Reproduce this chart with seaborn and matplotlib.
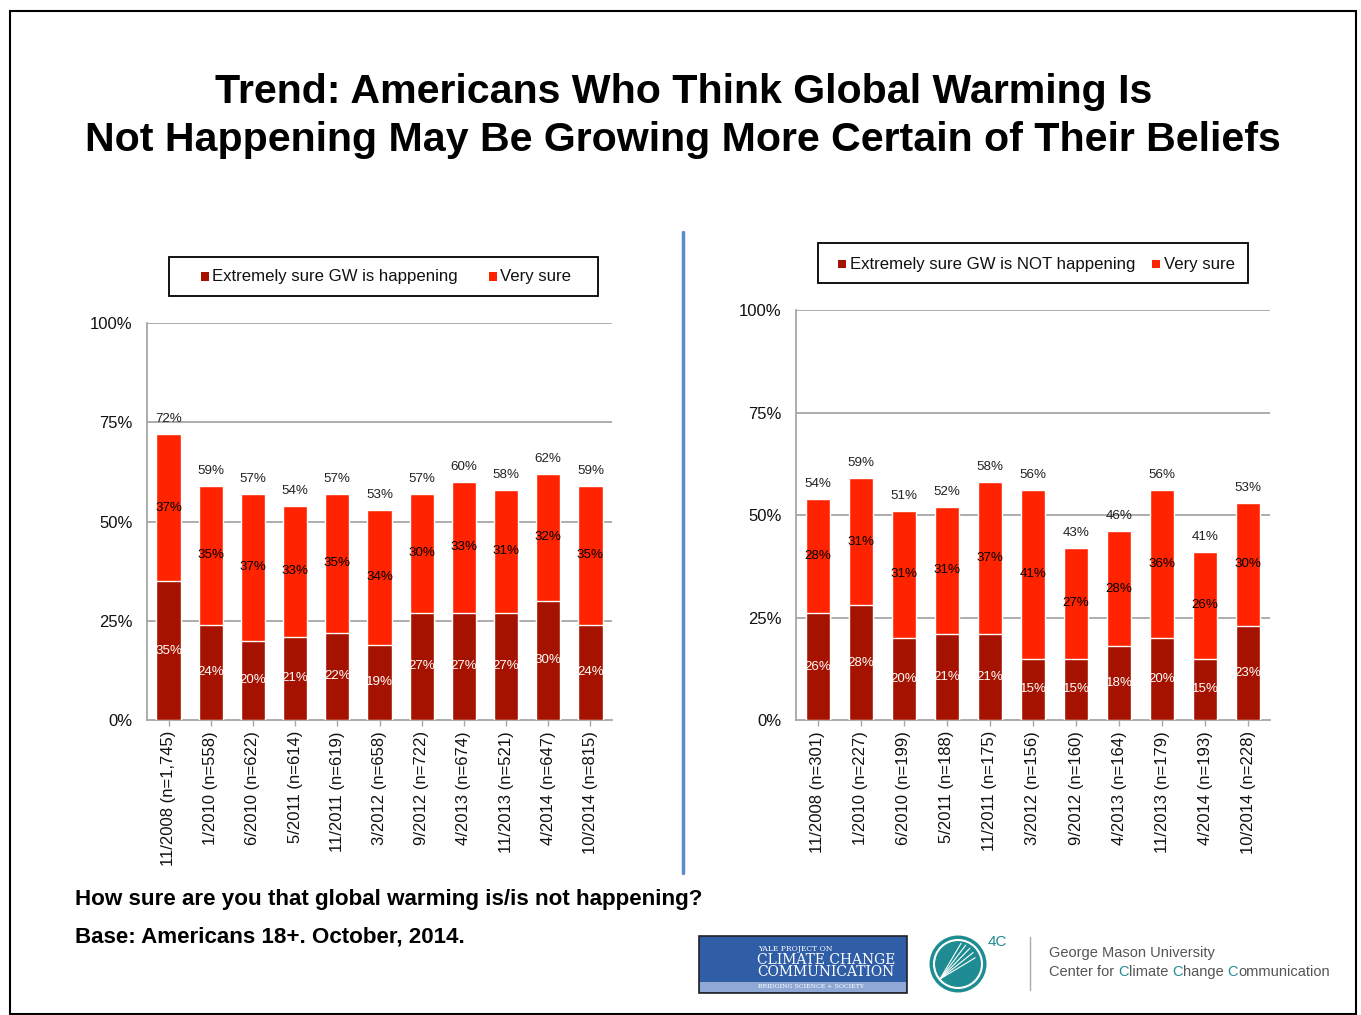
import matplotlib
matplotlib.use("Agg")
import matplotlib.pyplot as plt
import seaborn as sns
import pandas as pd
import numpy as np
from matplotlib.patches import Rectangle, Circle
from matplotlib.lines import Line2D

# ---- data ----
waves_happening = ["11/2008 (n=1,745)", "1/2010 (n=558)", "6/2010 (n=622)", "5/2011 (n=614)",
                   "11/2011 (n=619)", "3/2012 (n=658)", "9/2012 (n=722)", "4/2013 (n=674)",
                   "11/2013 (n=521)", "4/2014 (n=647)", "10/2014 (n=815)"]
extremely_happening = [35, 24, 20, 21, 22, 19, 27, 27, 27, 30, 24]
very_happening = [37, 35, 37, 33, 35, 34, 30, 33, 31, 32, 35]
total_happening = [72, 59, 57, 54, 57, 53, 57, 60, 58, 62, 59]

waves_not = ["11/2008 (n=301)", "1/2010 (n=227)", "6/2010 (n=199)", "5/2011 (n=188)",
             "11/2011 (n=175)", "3/2012 (n=156)", "9/2012 (n=160)", "4/2013 (n=164)",
             "11/2013 (n=179)", "4/2014 (n=193)", "10/2014 (n=228)"]
extremely_not = [26, 28, 20, 21, 21, 15, 15, 18, 20, 15, 23]
very_not = [28, 31, 31, 31, 37, 41, 27, 28, 36, 26, 30]
total_not = [54, 59, 51, 52, 58, 56, 43, 46, 56, 41, 53]

yticks = [0, 25, 50, 75, 100]
ytick_labels = ["0%", "25%", "50%", "75%", "100%"]

DARK = "#A51300"
BRIGHT = "#FF2300"
GRID = "#A6A6A6"
TEAL = "#1E8C92"

sns.set_theme(style="white")
plt.rcParams["font.family"] = ["Liberation Sans", "DejaVu Sans"]

W, H = 1361, 1015
fig = plt.figure(figsize=(W / 100, H / 100), dpi=100)
fig.patch.set_facecolor("white")
renderer = fig.canvas.get_renderer()


def fx(px):
    return px / W


def fy(py):
    return 1 - py / H


def fig_rect(x0, y0, x1, y1, **kw):
    fig.patches.append(Rectangle((fx(x0), fy(y1)), fx(x1) - fx(x0), fy(y0) - fy(y1),
                                 transform=fig.transFigure, **kw))


def legend_entry(mx, my, label, color):
    # small square swatch followed by its label
    fig_rect(mx, my - 4.5, mx + 8, my + 3.5, facecolor=color, edgecolor="none")
    fig.text(fx(mx + 11.5), fy(my), label, fontsize=12.1, color="#111111",
             ha="left", va="center")


def draw_panel(rect, cats, dark, bright, totals):
    ax = fig.add_axes(rect)
    df = pd.DataFrame({"wave": cats, "dark": dark, "bright": bright})
    df["stack"] = df["dark"] + df["bright"]
    sns.barplot(data=df, x="wave", y="stack", color=BRIGHT, width=0.57,
                saturation=1, ax=ax, zorder=3)
    sns.barplot(data=df, x="wave", y="dark", color=DARK, width=0.57,
                saturation=1, ax=ax, zorder=4)
    ax.set_xlim(-0.51, len(cats) - 0.49)
    ax.set_ylim(0, 100)
    ax.set_yticks(yticks)
    ax.set_yticklabels(ytick_labels, fontsize=12, color="#111111")
    ax.tick_params(axis="y", length=0, pad=10.5)
    ax.set_xticks(range(len(cats)))
    ax.set_xticklabels(cats, rotation=90, fontsize=12, color="#111111")
    ax.tick_params(axis="x", length=4, width=1, color=GRID, pad=4, bottom=True)
    ax.set_xlabel("")
    ax.set_ylabel("")
    for y in yticks[1:]:
        ax.axhline(y, color=GRID, lw=1.3, zorder=1)
    for s in ["top", "right"]:
        ax.spines[s].set_visible(False)
    for s in ["left", "bottom"]:
        ax.spines[s].set_color(GRID)
        ax.spines[s].set_linewidth(1.3)
    for i in range(len(cats)):
        ax.text(i, dark[i] / 2, f"{dark[i]}%", ha="center", va="center",
                fontsize=9.6, color="white", zorder=6)
        ax.text(i, dark[i] + bright[i] / 2, f"{bright[i]}%", ha="center", va="center",
                fontsize=9.6, color="black", zorder=6)
        ax.text(i, dark[i] + bright[i] + 2.2, f"{totals[i]}%", ha="center", va="bottom",
                fontsize=9.6, color="#222222", zorder=6)
    return ax


draw_panel([fx(147), fy(720), fx(612) - fx(147), fy(323) - fy(720)],
           waves_happening, extremely_happening, very_happening, total_happening)
draw_panel([fx(796), fy(720), fx(1270) - fx(796), fy(310) - fy(720)],
           waves_not, extremely_not, very_not, total_not)

# legends
fig_rect(169, 257, 598, 296, fill=False, edgecolor="black", lw=1.3)
legend_entry(201, 277, "Extremely sure GW is happening", DARK)
legend_entry(489, 277, "Very sure", BRIGHT)
fig_rect(818, 243, 1248, 283, fill=False, edgecolor="black", lw=1.3)
legend_entry(838, 264, "Extremely sure GW is NOT happening", DARK)
legend_entry(1152, 264, "Very sure", BRIGHT)

# outer frame
fig_rect(10, 11, 1356, 1014, fill=False, edgecolor="black", lw=1.5)
# divider between panels
fig.lines.append(Line2D([fx(683), fx(683)], [fy(232), fy(873)],
                        transform=fig.transFigure, color="#5B8BCB", lw=2.5))

# title
fig.text(0.502, fy(92), "Trend: Americans Who Think Global Warming Is",
         ha="center", va="center", fontsize=29.6, fontweight="bold", color="black")
fig.text(0.502, fy(140), "Not Happening May Be Growing More Certain of Their Beliefs",
         ha="center", va="center", fontsize=29.6, fontweight="bold", color="black")

# question and base
fig.text(fx(75), fy(900), "How sure are you that global warming is/is not happening?",
         ha="left", va="center", fontsize=16.1, fontweight="bold", color="black")
fig.text(fx(75), fy(937), "Base: Americans 18+. October, 2014.",
         ha="left", va="center", fontsize=16.1, fontweight="bold", color="black")

# Yale project badge
fig_rect(699, 936, 907, 993, facecolor="#2F5DA6", edgecolor="#222222", lw=1.2)
fig_rect(700, 982, 906, 992, facecolor="#8FA8D6", edgecolor="none")
globe = fig.add_axes([fx(704), fy(993), fx(762) - fx(704), fy(937) - fy(993)])
globe.set_xlim(-1, 1)
globe.set_ylim(-1, 1)
globe.set_aspect("equal")
globe.axis("off")
globe.add_patch(Circle((0, 0), 0.92, facecolor="#E8A020", edgecolor="#B86010", lw=1))
globe.add_patch(Circle((0.1, -0.2), 0.45, facecolor="#D2501A", edgecolor="none"))
fig.text(fx(758), fy(949), "YALE PROJECT ON", fontsize=5.5, color="white",
         family="DejaVu Serif", va="center")
fig.text(fx(757), fy(960), "CLIMATE CHANGE", fontsize=10, color="white",
         family="DejaVu Serif", va="center")
fig.text(fx(757), fy(972), "COMMUNICATION", fontsize=10, color="white",
         family="DejaVu Serif", va="center")
fig.text(fx(758), fy(987), "BRIDGING SCIENCE + SOCIETY", fontsize=4.5, color="white",
         family="DejaVu Serif", va="center")

# 4C emblem
emb = fig.add_axes([fx(928), fy(994), fx(988) - fx(928), fy(934) - fy(994)])
emb.set_xlim(-1, 1)
emb.set_ylim(-1, 1)
emb.set_aspect("equal")
emb.axis("off")
emb.add_patch(Circle((0, 0), 0.95, facecolor=TEAL, edgecolor="none"))
emb.add_patch(Circle((0, 0), 0.8, facecolor="none", edgecolor="white", lw=1.5))
for a in np.linspace(0.3, 1.4, 5):
    emb.plot([-0.6, 0.6 * np.cos(a)], [-0.5, 0.7 * np.sin(a)], color="white", lw=0.8)
fig.text(fx(988), fy(942), "4C", fontsize=11, color=TEAL, va="center")
fig.lines.append(Line2D([fx(1030), fx(1030)], [fy(937), fy(990)],
                        transform=fig.transFigure, color="#AAAAAA", lw=1))
fig.text(fx(1049), fy(953), "George Mason University", fontsize=10.5,
         color="#555555", va="center")

# centre name with the initial C's picked out in teal
x = fx(1049)
for piece, col in [("Center for ", "#555555"), ("C", TEAL), ("limate ", "#555555"),
                   ("C", TEAL), ("hange ", "#555555"), ("C", TEAL),
                   ("ommunication", "#555555")]:
    t = fig.text(x, fy(972), piece, fontsize=10.5, color=col, va="center", ha="left")
    bb = t.get_window_extent(renderer=renderer)
    x += bb.width / W

fig.savefig("out.png", dpi=100, facecolor="white")
